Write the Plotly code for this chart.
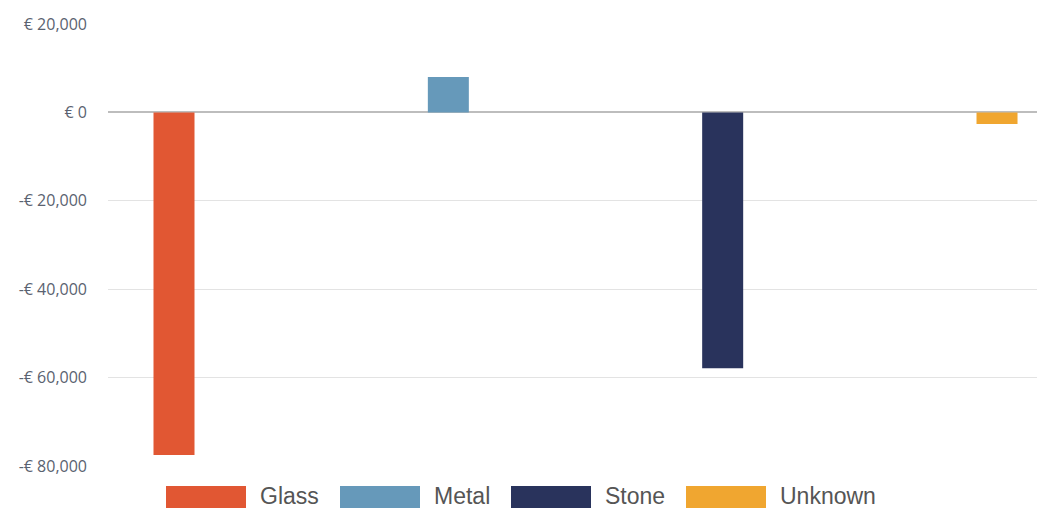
import plotly.graph_objects as go

# Material categories and the net value of each (euro)
materials = ["Glass", "Metal", "Stone", "Unknown"]
net_values = [-77500, 8000, -57900, -2600]
colors = ["#E15733", "#6699BA", "#29335C", "#F0A630"]

# y-axis ticks
tick_vals = [20000, 0, -20000, -40000, -60000, -80000]
tick_text = ["€ 20,000", "€ 0", "-€ 20,000", "-€ 40,000", "-€ 60,000", "-€ 80,000"]

W, H = 1037, 508
L, R, T, B = 108, 0, 24, 42
plot_w = W - L - R
plot_h = H - T - B

fig = go.Figure()
# one trace per material; each only has a value in its own category slot
for i, (name, val, col) in enumerate(zip(materials, net_values, colors)):
    ys = [val if j == i else None for j in range(len(materials))]
    fig.add_trace(go.Bar(x=materials, y=ys, name=name, marker=dict(color=col, line=dict(width=0)),
                         showlegend=False))

fig.update_layout(
    width=W, height=H,
    margin=dict(l=L, r=R, t=T, b=B),
    paper_bgcolor="white", plot_bgcolor="white",
    barmode="group", bargap=0.297, bargroupgap=0,
    xaxis=dict(type="category", range=[-0.5465, 3.435], showticklabels=False,
               showgrid=False, zeroline=False, ticks=""),
    yaxis=dict(range=[-80000, 20000], tickvals=tick_vals, ticktext=tick_text,
               showgrid=True, gridcolor="#E3E3E3", gridwidth=1,
               zeroline=True, zerolinecolor="#BDBDBD", zerolinewidth=1.5,
               ticks="", ticklabelstandoff=20,
               tickfont=dict(family="Open Sans", size=16, color="#5A6270")),
)

# legend row drawn below the plot: wide swatches followed by labels
def px_x(px):
    return (px - L) / plot_w

def px_y(py):
    return (H - B - py) / plot_h

legend_left = [166, 340, 511, 686]
sw_w, sw_top, sw_bot = 80, 486, 512
for name, col, x0 in zip(materials, colors, legend_left):
    fig.add_shape(type="rect", xref="paper", yref="paper",
                  x0=px_x(x0), x1=px_x(x0 + sw_w), y0=px_y(sw_bot), y1=px_y(sw_top),
                  fillcolor=col, line=dict(width=0), layer="above")
    fig.add_annotation(xref="paper", yref="paper", x=px_x(x0 + sw_w + 12), y=px_y(496),
                       text=name, showarrow=False, xanchor="left", yanchor="middle",
                       font=dict(family="Liberation Sans", size=23, color="#555555"))

fig.write_html("out.html")
